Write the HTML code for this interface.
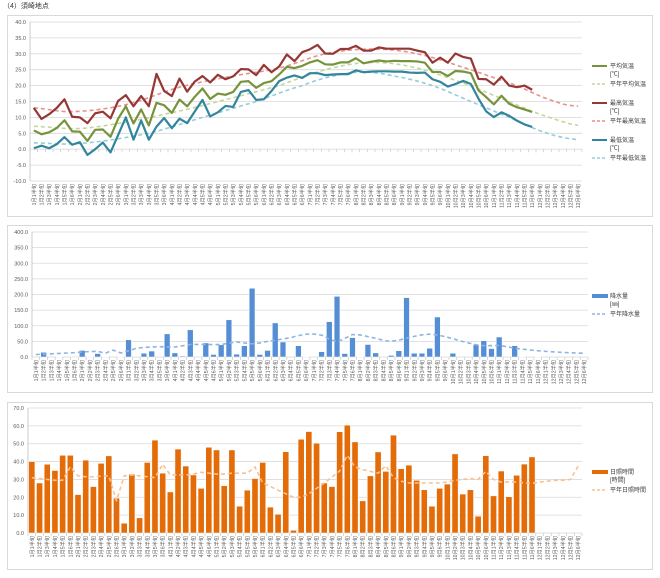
<!DOCTYPE html>
<html><head><meta charset="utf-8"><style>
body{margin:0;background:#fff;width:660px;height:578px;overflow:hidden}
svg{display:block;font-family:"Liberation Sans","Noto Sans CJK JP",sans-serif}
</style></head><body>
<svg id="s" width="660" height="578" xmlns="http://www.w3.org/2000/svg"></svg>
<script>
const S=document.getElementById('s');let h='';
h+='<text x="3" y="8" font-size="7" fill="#333">（4）須崎地点</text>';
h+='<rect x="7.5" y="15.5" width="645" height="201" fill="#fff" stroke="#d9d9d9"/>';
h+='<rect x="7.5" y="225.5" width="645" height="167" fill="#fff" stroke="#d9d9d9"/>';
h+='<rect x="7.5" y="402.5" width="645" height="167" fill="#fff" stroke="#d9d9d9"/>';
function cr(keys){ // keys [[i,v],...] -> values 0..71 via catmull-rom-ish linear smoothing
 const out=[];for(let i=0;i<72;i++){let k=0;while(k<keys.length-2&&keys[k+1][0]<=i)k++;
 const p1=keys[k],p2=keys[k+1],p0=keys[Math.max(0,k-1)],p3=keys[Math.min(keys.length-1,k+2)];
 const t=(i-p1[0])/(p2[0]-p1[0]);const t2=t*t,t3=t2*t;
 out.push(0.5*((2*p1[1])+(-p0[1]+p2[1])*t+(2*p0[1]-5*p1[1]+4*p2[1]-p3[1])*t2+(-p0[1]+3*p1[1]-3*p2[1]+p3[1])*t3));}
 return out;}
const cats=[];for(let m=1;m<=12;m++)for(let k=1;k<=6;k++)cats.push(m+'月'+k+'半旬');
function panel(o){
 const {x0,x1,yTop,yBot,min,max,step,dec}=o;const w=(x1-x0)/72;
 const Y=v=>yBot-(v-min)/(max-min)*(yBot-yTop);const X=i=>x0+(i+0.5)*w;
 for(let v=min;v<=max+1e-6;v+=step){const y=Y(v);
  h+=`<line x1="${x0}" x2="${x1}" y1="${y}" y2="${y}" stroke="#d9d9d9" stroke-width="0.8"/>`;
  h+=`<text x="${x0-4}" y="${y+2}" font-size="5.5" fill="#595959" text-anchor="end">${v.toFixed(1)}</text>`;}
 h+=`<line x1="${x0}" x2="${x0}" y1="${yTop}" y2="${yBot}" stroke="#bfbfbf" stroke-width="0.8"/>`;
 const ay=o.axisY!==undefined?Y(o.axisY):yBot;
 for(let i=0;i<=72;i++){h+=`<line x1="${x0+i*w}" x2="${x0+i*w}" y1="${ay}" y2="${ay+3}" stroke="#bfbfbf" stroke-width="0.6"/>`;}
 cats.forEach((c,i)=>{h+=`<text transform="translate(${X(i)+2},${yBot+3}) rotate(-90)" font-size="5.2" fill="#595959" text-anchor="end">${c}</text>`;});
 return {X,Y,w};}
function line(X,Y,d,col,wd,dash){h+=`<polyline fill="none" stroke="${col}" stroke-width="${wd}" ${dash?'stroke-dasharray="'+dash+'"':''} stroke-linejoin="round" points="${d.map((v,i)=>X(i)+','+Y(v)).join(' ')}"/>`;}
// Panel 1
let p=panel({x0:30,x1:582,yTop:22,yBot:181,min:-10,max:40,step:5,axisY:0});
const mx=[13,9.5,11,13,15.7,10.2,10,8.2,11.3,11.8,9.7,15.2,17,13.5,16.7,13.5,23.7,18.3,16.7,22.2,18.1,21.3,23,21,23.4,22,22.9,25.2,25.1,23.3,26.5,24.2,26,29.8,27.7,30.5,31.4,32.8,30.1,30,31.5,31.5,32.5,31,31,32,31.6,31.6,31.6,31.6,31,30.5,27.2,28.8,27.2,30.1,29,28.5,22.1,22,20.3,22.8,20,19.5,20,18.7];
const av=[5.9,4.7,5.3,6.7,9.1,5.6,5.5,2.6,6.1,6.2,3.9,9.6,13.5,8.1,12.5,7.5,14.6,13.8,11.4,15.6,13.5,16.5,19.1,15.8,17.5,17.1,18,21.2,21.4,19.3,20.8,21.4,23.5,25.9,25.5,26.2,27.3,28,26.7,26.6,27.3,27.3,28.6,27,27.5,27.9,27.6,27.8,27.7,27.7,27.6,27.2,24.3,24.3,23,24.6,24.4,23.9,18.5,16.4,14.1,16.8,14.3,13.2,12.5,11.7];
const mn=[0.3,1.1,0.3,1.6,3.8,1.4,2.2,-1.8,0,2.1,-1,4.5,10,3,9,3,7.1,9.8,6.6,9.6,8.2,11.9,15.5,10.3,11.6,13.6,13.3,18,18.6,15.5,15.7,18.3,21.4,22.5,23.2,22.4,23.9,23.9,23.3,23.5,23.6,23.6,24.8,24.2,24.4,24.5,24.5,24.4,24.4,24.1,24,24.1,22,21.2,19.7,20.5,21.5,20.5,15.9,11.9,10.1,11.6,10.5,9,7.8,7];
const nav=cr([[0,7.2],[6,6.5],[12,8.5],[17,11],[24,15],[32,20],[38,25],[44,27.3],[50,25.5],[57,20],[62,15],[66,11],[71,7.5]]);
const nmx=cr([[0,13],[5,11.8],[12,14],[19,19.5],[26,23],[32,25.5],[38,30],[44,31.5],[50,30],[57,25],[63,20],[68,15],[71,13.5]]);
const nmn=cr([[0,2],[6,1.8],[15,5],[22,10],[29,15],[35,20],[39,23],[43,24.3],[47,23],[52,20],[57,15],[62,10],[67,5],[71,3]]);
line(p.X,p.Y,nav,'#c3d69b',1.6,'4,3');line(p.X,p.Y,nmx,'#e6918c',1.6,'4,3');line(p.X,p.Y,nmn,'#93cddd',1.6,'4,3');
line(p.X,p.Y,av,'#77933c',2.2);line(p.X,p.Y,mx,'#953735',2.2);line(p.X,p.Y,mn,'#31859c',2.2);
function leg(y,col,dash,t1,t2,bar){
 if(bar)h+=`<rect x="592" y="${y-2}" width="16" height="4" fill="${col}"/>`;
 else h+=`<line x1="592" x2="607" y1="${y}" y2="${y}" stroke="${col}" stroke-width="${dash?1.6:2}" ${dash?'stroke-dasharray="3,2"':''}/>`;
 h+=`<text x="610" y="${y+2}" font-size="6" fill="#404040">${t1}</text>`;
 if(t2)h+=`<text x="610" y="${y+10}" font-size="6" fill="#404040">${t2}</text>`;}
leg(66,'#77933c',0,'平均気温','[℃]');leg(84,'#c3d69b',1,'平年平均気温');
leg(103,'#953735',0,'最高気温','[℃]');leg(121,'#e6918c',1,'平年最高気温');
leg(140,'#31859c',0,'最低気温','[℃]');leg(158,'#93cddd',1,'平年最低気温');
// Panel 2
p=panel({x0:32,x1:588,yTop:232,yBot:357,min:0,max:400,step:50});
const pr=[0,15,0,1,0,2,21,1,11,1,0,1,55,0,12,19,0,74,13,3,87,0,45,8,39,119,9,36,220,8,21,109,48,0,36,1,0,17,113,194,11,62,1,40,13,0,5,20,190,12,12,28,128,0,12,0,0,40,52,27,64,0,36,1,0,1];
pr.forEach((v,i)=>{if(v>0){const bw=p.w*0.75;h+=`<rect x="${p.X(i)-bw/2}" y="${p.Y(v)}" width="${bw}" height="${357-p.Y(v)}" fill="#558ed5" stroke="#fff" stroke-width="0.5"/>`;}});
const npr=cr([[0,8],[5,14],[8,18],[9,12],[10,22],[11,13],[13,28],[16,33],[18,32],[20,40],[24,40],[26,48],[28,42],[30,50],[33,62],[35,73],[37,70],[39,48],[41,72],[44,60],[46,50],[49,66],[51,73],[53,65],[56,45],[58,36],[60,37],[62,28],[65,20],[68,15],[71,12]]);
line(p.X,p.Y,npr,'#8db4e2',1.6,'4,3');
leg(296,'#558ed5',0,'降水量','[㎜]',1);leg(314,'#8db4e2',1,'平年降水量');
// Panel 3
p=panel({x0:28,x1:582,yTop:408,yBot:533,min:0,max:70,step:10});
const sn=[40,28,38.5,35,43.5,43.5,21.5,40.8,26,39,43.2,19.5,5.5,33,8.5,39.5,52,33.5,23,47,37.5,32.5,25,48,46.5,26.5,46.5,15,24,30.5,39.5,14.5,10.5,45.5,1.5,52.5,56.8,50.3,28,26,56.7,60.4,51,18,32,45.4,34.5,54.8,36,38,29.5,24.2,15,25,27.4,44.3,21.8,24.2,9.4,43.3,20.8,34.7,20.3,32.3,38.6,42.6];
sn.forEach((v,i)=>{const bw=p.w*0.8;h+=`<rect x="${p.X(i)-bw/2}" y="${p.Y(v)}" width="${bw}" height="${533-p.Y(v)}" fill="#e36c09" stroke="#fff" stroke-width="0.5"/>`;});
const nsn=[31,30.5,30,29.5,29.5,37,32,31.5,31.5,31.8,32,18,32,32.5,32,31.5,31,38.5,32.5,32.5,32.5,33,34,33.5,33,33,33.5,33.5,33.5,37,28,26,24,22,20,20,22,25,28,31.3,34.7,43.5,37,35.5,34.5,33.5,37.7,31,29,28,28,28,28,28,28.5,29.5,30,30.5,30,34.5,30,28.5,28.5,28.5,28,27.8,28.5,29,29.5,29.5,30,37.5];
line(p.X,p.Y,nsn,'#fac090',1.6,'4,3');
leg(472,'#e36c09',0,'日照時間','[時間]',1);leg(490,'#fac090',1,'平年日照時間');
S.innerHTML=h;
</script>
</body></html>
